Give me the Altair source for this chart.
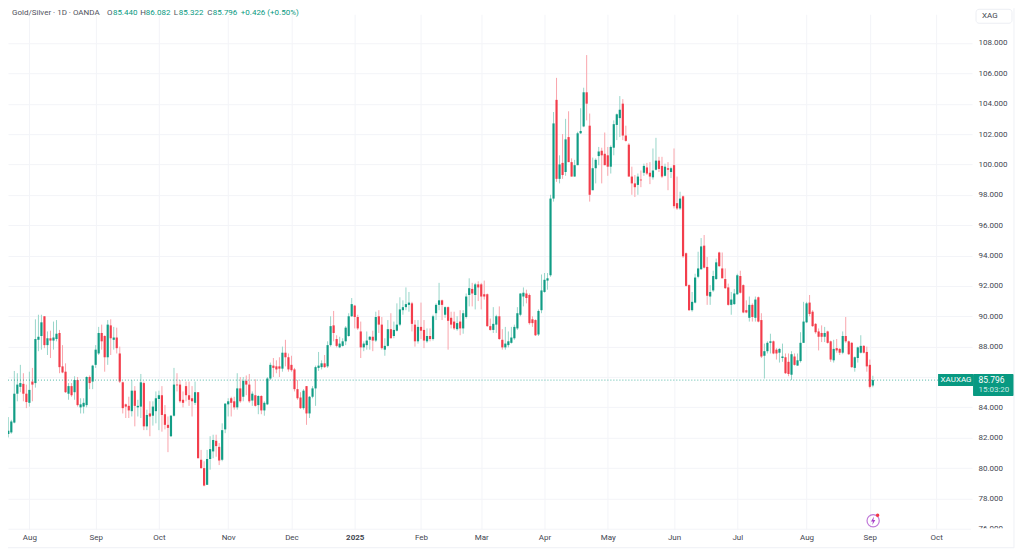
import json
import altair as alt
import pandas as pd

open_ = [82.24,82.35,83.0,84.9,85.35,85.55,84.9,84.3,85.7,85.6,
88.45,88.7,90,88.1,88.55,88.4,88.5,88.9,86.7,86.35,
84.9,85.4,85,85.8,84,84.05,84.15,86,85.7,86.8,
87.55,88.9,88.7,87.3,89.4,88.45,88.6,87.55,85.65,84.2,
84.1,83.75,85.1,84,84.05,85.6,82.75,83.6,83.45,83.75,
84.55,84.8,83.55,82.85,82.1,83.45,85.5,85.5,84.5,85.4,
84.8,84.6,84.3,85,80.55,80,78.9,80.6,81.1,81.8,
81.4,80.55,82.55,84.2,84.6,84.4,84,85.25,84.7,85.75,
85.5,84.45,84.8,84.15,84.75,83.8,84.2,85.9,86.75,86.7,
86.7,86.55,87.6,87.3,86.8,86.5,85.2,84.65,83.95,85.4,
83.6,84.7,85.25,86.6,86.65,86.9,86.7,88.1,89.4,88.5,
87.95,88.05,88.35,88.7,90,90.7,89.95,89,87.95,88.1,
88.45,88.65,88.4,90,89.45,87.8,88.05,89.15,88.7,89.05,
89.45,90.4,90.6,90.75,90.85,89.45,88.35,89.3,89.1,88.35,
88.7,88.5,90.2,90.75,91.05,90.1,90.6,89.9,89.65,89.15,
89.65,89.2,89.95,91.4,91.8,91.4,92.1,92.1,91.45,91.45,
89.35,89.1,89.45,90,88.45,87.95,88.1,88.25,88.55,89.2,
90.1,91.3,91.5,91.4,89.8,89.75,88.8,90.4,91.6,92.35,
92.7,97.75,104.25,99.05,100.1,99.5,101.8,100.15,99.2,99.95,
102.05,102.5,104.75,102.55,98.3,99.75,100.55,100.9,100.7,100.6,
99.85,101.1,102.6,103.05,104,101.9,101.3,99.2,98.75,98.65,
99,99.45,99.8,99.45,99.15,99.65,100.25,99.9,99.25,99.75,
99.5,99.95,97.45,97.1,97.9,94.15,92.05,90.4,90.9,92.6,
93.1,94.65,93.25,91.3,91.7,92.45,94.2,93.15,92.45,91.9,
90.75,90.8,91.45,92.65,92.05,90.4,89.9,90.75,89.9,91.25,
89.75,87.4,87.7,88.25,88.35,87.8,87.6,87.25,87.3,87,
86.15,87.35,86.75,87.05,88.25,89.6,90.9,90.3,89.5,89,
88.9,88.65,89,88.35,87.1,87.9,87.85,87.6,88.7,88.35,
88.25,86.6,87.25,87.6,88.05,87.65,86.8,85.44]

close = [82.46,83.07,84.9,85.5,85.6,84.9,84.35,85.15,85.5,88.5,
88.65,89.6,88.1,88.55,88.4,88.6,88.85,86.65,86.3,85,
85.4,84.8,85.8,84.15,84.2,84.3,86,85.6,86.75,87.8,
88.9,88.35,87.3,89.45,88.55,88.6,87.9,85.7,83.95,84.05,
83.8,85.1,84.1,84.1,85.65,82.75,83.5,83.4,84.05,84.6,
84.8,83.5,82.85,82.65,83.45,85.5,85.45,84.4,84.3,84.8,
84.5,84.4,85,80.65,80,78.85,80.6,81.25,81.85,81.45,
80.5,82.5,84.25,84.4,84.3,84,85.25,84.4,85.75,85.5,
84.4,84.9,84.1,84.75,83.8,84.3,85.9,86.8,86.6,86.5,
86.55,87.6,87.3,86.5,86.45,85.2,84.6,83.95,85.1,83.6,
84.7,85.25,86.65,86.75,86.9,86.65,88.1,89.35,88.9,88.05,
88.2,88.35,89.25,90,90.8,89.95,89.2,87.95,88.2,88.4,
88.65,88.4,89.95,89.45,87.9,88.05,89.15,88.55,89.1,89.45,
90.45,90.6,90.8,90.9,89.5,88.35,89.3,89.05,88.4,88.7,
88.5,90,90.75,91.05,90.75,90.6,89.7,89.45,89.2,89.55,
89.2,90.2,91.3,91.85,91.5,92.1,91.9,91.3,91.3,89.35,
89.1,89.5,90,88.5,87.95,88.2,88.35,88.6,89.3,90.2,
91.5,91.55,91.2,89.55,89.55,88.75,90.35,91.7,92.4,92.5,
97.75,102.7,99.05,100,99.3,101.65,100.15,99.2,99.95,102.05,
102.2,104.75,104,98,99.75,100.3,100.85,100.6,99.95,99.85,
101.15,102.65,103.3,103.6,101.9,101.55,99.2,98.75,98.5,99.2,
98.95,99.9,99.4,99.2,99.6,100.25,99.7,99.2,99.85,99.65,
99.75,97.25,97.1,97.75,93.95,92,90.4,90.95,92.55,93.15,
94.6,93.2,91.35,91.6,92.65,93.55,93.3,92.5,91.85,90.75,
91.1,91.5,92.7,91.55,90.25,90.25,90.75,89.95,91.1,89.65,
87.35,87.7,88.25,88.35,87.55,87.55,87.85,87.35,86.25,86.2,
87.5,86.8,87.1,88.25,89.65,90.85,90.15,89.35,88.95,88.65,
88.65,88.9,88.25,87.15,87.85,87.75,87.6,88.7,88.35,87.5,
86.65,87.3,87.95,88.05,87.6,86.7,85.35,85.796]

high = [83.36,83.18,86.4,86.25,86.8,86.25,85.5,86.35,86.6,89.8,
90.1,90.1,90,89,89.05,89.65,89.75,89.1,88.1,86.9,
85.6,85.6,86.05,86,84.6,84.6,86.05,86.1,86.8,88.1,
89.3,89.45,88.75,89.75,89.8,89.3,89.25,88,85.7,84.25,
84.7,85.8,85.4,84.5,86.2,85.7,83.85,84.4,84.4,85.05,
85.1,85.4,84.15,83.4,83.5,86.6,86.25,85.8,85.05,85.7,
85.7,85.4,85.7,85,81.2,80.45,81.2,82.1,82.2,82.2,
81.65,82.95,84.25,84.6,84.7,84.7,86.25,86,86,86.1,
86.2,85.05,85.85,84.8,84.8,84.4,86,86.95,87.25,87.1,
87.3,88,88.45,87.55,87.4,86.6,85.8,85,85.2,85.4,
84.75,85.4,86.75,87.65,87.1,87.45,88.35,90,90.35,88.75,
88.65,88.55,89.35,90.2,91.2,90.75,90.1,89.65,88.35,89,
88.7,89.05,90.3,90.4,89.95,88.55,89.75,90.2,89.65,90.85,
91.25,91.05,91.9,91.6,90.95,89.75,89.75,90.9,89.75,89.2,
89.2,90.1,90.85,92.2,91.1,90.65,90.65,90.3,90.3,90,
90.4,90.4,91.5,92.5,92.2,92.2,92.3,92.2,92.35,91.5,
89.85,90.6,90.1,90.65,89.15,89.3,89,89.3,89.45,90.6,
91.5,91.9,91.75,91.5,90,89.8,90.45,92.75,92.85,92.85,
98,103.45,105.7,100.6,102,103,103.5,100.4,100.3,102.15,
103.7,105.05,107.2,103.35,100.45,100.4,101.15,101.1,102.1,101.15,
101.25,102.9,103.35,104.5,104.3,102.55,101.4,99.85,99.3,99.4,
99.6,100.05,100.1,100.15,101.05,101.75,100.5,100.5,100.05,100.15,
99.85,101.05,99.2,98.2,97.95,94.2,92.1,91.6,92.8,94.25,
95.15,95.35,93.9,92.05,93,93.8,94.25,94.2,93.15,92.15,
91.6,91.8,92.8,93,92.1,91.05,91.3,90.85,91.3,91.3,
90.2,88.2,88.35,88.85,88.4,87.9,87.9,88.2,87.55,87.55,
87.7,87.55,87.55,88.95,90.95,90.95,91.4,90.4,89.55,89.2,
89.4,89.3,89.05,88.4,88.45,88.5,87.9,89,89.95,88.4,
88.3,87.35,88,88.75,88.1,88,87.15,86.082]

low = [82.02,82.26,82.95,84.4,85.0,84.4,83.95,84.05,84.4,85.3,
87.7,87.8,87.9,87.45,87.25,87.8,88.35,86.25,86.25,84.95,
84.5,84.7,84.5,84.05,83.6,83.6,84,85.2,85.2,86.6,
87.45,87.8,86.35,86.8,87.45,87.8,87.55,85.6,83.6,83.3,
83.3,83.4,82.75,83.4,83.3,82.5,82.5,82.1,82.8,82.95,
82.5,82.4,82.55,81.05,82.05,83.4,85.05,84.3,84,84.4,
84.1,83.4,84.15,80.65,79.95,78.8,78.9,79.9,80.65,80.75,
80.2,80.45,82.3,83.4,83.4,83.85,83.85,84.3,84.4,84.8,
84.3,84.1,84.05,83.55,83.55,83.45,84.15,85.8,86,86.25,
86,86.35,86.7,86.35,86.35,85.05,84.5,83.9,83.85,82.85,
83.3,84.6,84.1,86.4,86.5,86.6,86.6,88,88.35,87.95,
87.9,88,88.1,88.65,89.95,89.2,89.1,87.25,87.7,87.8,
87.8,87.7,88.3,88.9,87.8,87.4,88,88.55,88.55,89,
89.35,90.1,90.4,90.3,89,88,88.2,88.5,87.9,88.25,
88.35,88.4,89.75,90.4,89.75,89.9,87.8,89.2,89.1,89.05,
88.75,88.85,89.85,90.65,90.65,90.45,91,90.45,91.1,89.3,
89.05,88.9,88.9,88.45,87.8,87.8,87.95,88.2,88.45,89.1,
90,90.65,90.85,89.45,89.3,88.7,88.7,90.2,91.55,91.75,
92.6,97.55,98.85,98.75,99.05,99.25,100.15,99.2,99.2,99.95,
102,102.45,102.9,97.55,98.3,98.75,99.95,98.75,99.95,99.25,
99.4,100.6,101.6,101.8,101.6,101.5,99.2,98,97.85,98,
98.5,99.25,99.3,98.7,99,99.6,99.5,99.1,99.2,98.3,
99.1,97.1,97,97,93.85,91.95,90.35,90.3,90.85,92.5,
93.05,93.15,90.75,90.75,91.6,92.4,93.25,92.5,91.8,90.7,
90.1,90.75,91.4,91.5,90.2,90.2,89.65,89.65,89.65,89.6,
87.25,85.9,87.55,87.55,87.5,87.15,86.95,87,86.2,86.05,
85.8,86.75,86.75,86.95,88.25,89.55,90,89.3,88.85,87.75,
88.3,88.3,88.2,87,86.95,87.6,87.45,87.5,88.25,87.45,
86.6,86.35,86.95,87.55,87.55,86.35,85.25,85.322]

tick_index = [7,29,50,73,94,115,137,157,178,199,221,242,265,286,308]
tick_label = ["Aug","Sep","Oct","Nov","Dec","2025","Feb","Mar","Apr","May","Jun","Jul","Aug","Sep","Oct"]
price_ticks = list(range(76, 110, 2))
last_price = 85.796

GREEN, RED = "#089981", "#f23645"
PALE_G, PALE_R = "#98d6ca", "#f9a5ac"
GRID = "#f3f4f8"
PURPLE = "#a742c9"
FONT = "Roboto"
AXIS_SIZE = 8

n = len(close)
df = pd.DataFrame({"i": range(n), "o": open_, "h": high, "l": low, "c": close})
df["dir"] = ["up" if c >= o else "dn" for o, c in zip(open_, close)]

# page pixels of the plot frame: left 8, top 14, bottom just below price 76
TOP = 14
PW, PH = 965, 516
STEP = (873.7 - 8.3) / (n - 1)
x_dom = [-0.3 / STEP, (PW - 0.3) / STEP]
y_dom = [84 - ((TOP + PH) - 407.5) / 15.2, 84 + (407.5 - TOP) / 15.2]

xs = alt.Scale(domain=x_dom, nice=False, zero=False)
ys = alt.Scale(domain=y_dom, nice=False, zero=False)

label_expr = (f"{json.dumps(tick_label)}[indexof({json.dumps(tick_index)},datum.value)]")
x_axis = alt.Axis(values=tick_index, tickCount=len(tick_index), labelExpr=label_expr, title=None,
                  grid=True, gridColor=GRID, domain=False, ticks=False, labelColor="#434651",
                  labelFontSize=AXIS_SIZE, labelFont=FONT, labelPadding=4, labelOverlap=False, labelFlush=False,
                  labelFontWeight=alt.condition("datum.value==115", alt.value("bold"), alt.value("normal")))
y_axis = alt.Axis(values=price_ticks, tickCount=len(price_ticks), format=".3f", orient="right", title=None,
                  grid=True, gridColor=GRID, domain=False, ticks=False, labelColor="#434651",
                  labelFontSize=AXIS_SIZE, labelFont=FONT, labelPadding=6, labelOverlap=False, labelFlush=False)

base = alt.Chart(df)
wicks = base.mark_rule(strokeWidth=1).encode(
    x=alt.X("i:Q", scale=xs, axis=x_axis),
    y=alt.Y("l:Q", scale=ys, axis=y_axis),
    y2="h:Q",
    color=alt.Color("dir:N", scale=alt.Scale(domain=["up", "dn"], range=[PALE_G, PALE_R]), legend=None),
)
bodies = base.mark_rule(strokeWidth=2.2, opacity=0.95).encode(
    x=alt.X("i:Q", scale=xs),
    y=alt.Y("o:Q", scale=ys),
    y2="c:Q",
    stroke=alt.Stroke("dir:N", scale=alt.Scale(domain=["up", "dn"], range=[GREEN, RED]), legend=None),
)

one = pd.DataFrame({"a": [0]})
def dummy():
    return alt.Chart(one)

def label(text, px, py, color="#434651", size=8, align="left", weight="normal"):
    return dummy().mark_text(align=align, baseline="middle", fontSize=size, font=FONT, color=color,
                             fontWeight=weight).encode(
        x=alt.value(px - 8), y=alt.value(py - TOP), text=alt.value(text))

def box(x0, x1, y0, y1, fill, stroke=None, radius=0):
    kw = {"fill": fill}
    if stroke:
        kw["stroke"] = stroke
        kw["strokeWidth"] = 1
    if radius:
        kw["cornerRadius"] = radius
    return dummy().mark_rect(**kw).encode(
        x=alt.value(x0 - 8), x2=alt.value(x1 - 8), y=alt.value(y0 - TOP), y2=alt.value(y1 - TOP))

last_line = alt.Chart(pd.DataFrame({"p": [last_price]})).mark_rule(
    strokeDash=[1, 2], color=GREEN, strokeWidth=1, opacity=0.7).encode(
    y=alt.Y("p:Q", scale=ys), x=alt.value(0), x2=alt.value(PW))

def vline(px, y0, y1):
    return dummy().mark_rule(color="#eef0f5", strokeWidth=1).encode(
        x=alt.value(px - 8), y=alt.value(y0 - TOP), y2=alt.value(y1 - TOP))

def hline(py, x0, x1):
    return dummy().mark_rule(color="#eef0f5", strokeWidth=1).encode(
        y=alt.value(py - TOP), x=alt.value(x0 - 8), x2=alt.value(x1 - 8))

bolt = "M0.2,-1 L-0.5,0.15 L-0.05,0.15 L-0.2,1 L0.5,-0.2 L0.05,-0.2 Z"
icon = [
    dummy().mark_point(shape="circle", filled=False, size=150, color=PURPLE, strokeWidth=1.2).encode(
        x=alt.value(874 - 8), y=alt.value(521 - TOP)),
    dummy().mark_point(shape=bolt, filled=True, size=75, color=PURPLE, strokeWidth=0, opacity=1).encode(
        x=alt.value(874 - 8), y=alt.value(521 - TOP)),
    dummy().mark_point(shape="circle", filled=True, size=12, color=RED, strokeWidth=0, opacity=1).encode(
        x=alt.value(878.5 - 8), y=alt.value(515.5 - TOP)),
]

HY = 12.5
header = [
    label("Gold/Silver · 1D · OANDA", 12, HY, "#4f525c"),
    label("O", 107, HY, "#4f525c"), label("85.440", 113, HY, GREEN),
    label("H", 140.5, HY, "#4f525c"), label("86.082", 146, HY, GREEN),
    label("L", 174, HY, "#4f525c"), label("85.322", 179, HY, GREEN),
    label("C", 207.5, HY, "#4f525c"), label("85.796", 213, HY, GREEN),
    label("+0.426 (+0.50%)", 241, HY, GREEN),
]

chart = alt.layer(
    wicks, bodies, last_line,
    box(972, 1012, 528.5, 535, "#ffffff"),
    vline(1015, 8, 548), hline(548, 8, 1015),
    box(977, 1013, 9, 23, "#ffffff", "#eceef3", 3),
    label("XAG", 983, 16, "#434651", 8),
    box(939, 974, 374, 386, GREEN),
    box(974, 1014.5, 374, 396, GREEN, None, 1),
    label("XAUXAG", 941.5, 380.5, "#ffffff", 8),
    label("85.796", 979.5, 380.5, "#ffffff", 8.5),
    label("15:03:20", 979.5, 390, "#c8eae3", 8),
    *icon, *header,
).properties(
    width=PW, height=PH,
    padding={"left": 0, "top": TOP - 8, "right": 44, "bottom": 20},
    autosize=alt.AutoSizeParams(type="none"),
    background="#ffffff",
).configure_view(strokeWidth=0)

chart.save("out.html", embed_options={"renderer": "svg", "actions": False})
